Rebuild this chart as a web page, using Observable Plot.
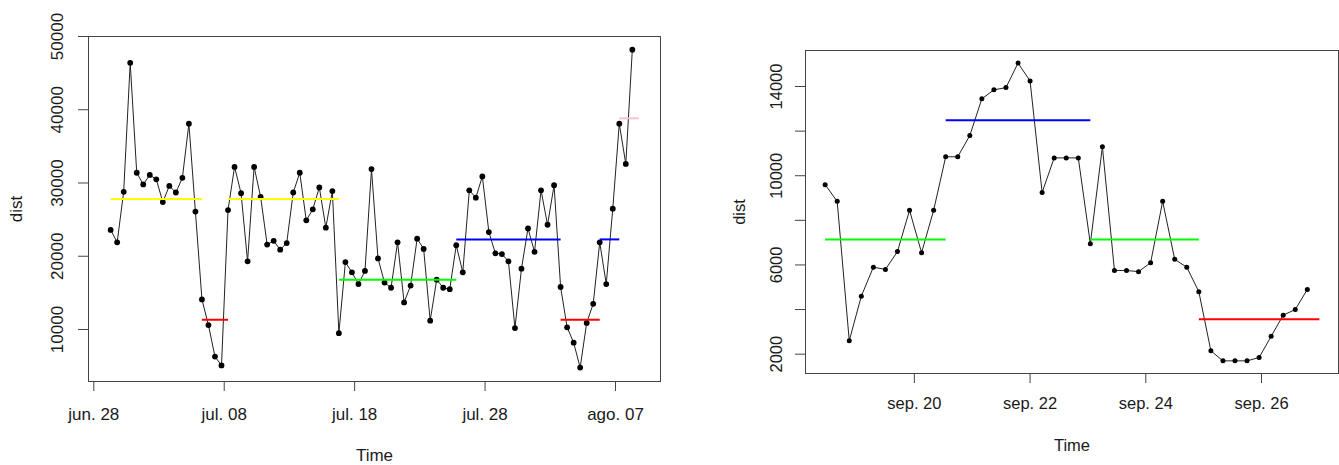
<!DOCTYPE html>
<html><head><meta charset="utf-8">
<script src="https://cdn.jsdelivr.net/npm/d3@7"></script>
<script src="https://cdn.jsdelivr.net/npm/@observablehq/plot@0.6"></script>
<style>
html,body{margin:0;padding:0;background:#fff;}
#wrap{position:relative;width:1339px;height:465px;overflow:hidden;font-family:"Liberation Sans",Arial,sans-serif;}
#left{position:absolute;left:0;top:0;}
#right{position:absolute;left:670px;top:0;}
</style></head><body>
<div id="wrap"><div id="left"></div><div id="right"></div></div>
<script>
// ---------- Left panel data (12-hourly) ----------
const leftStart = "2020-06-29T07:00Z";
const leftStepHours = 12;
const leftDist = [23600,21900,28800,46400,31400,29800,31100,30500,27400,29600,
  28700,30700,38100,26100,14100,10600,6300,5100,26300,32200,
  28600,19300,32200,28100,21600,22100,20900,21800,28700,31400,
  24900,26400,29400,23900,28900,9500,19200,17800,16200,18000,
  31900,19700,16400,15700,21900,13700,16000,22400,21000,11200,
  16800,15700,15500,21500,17800,29000,28000,30900,23300,20400,
  20300,19300,10200,18300,23800,20600,29000,24300,29700,15800,
  10300,8200,4800,10900,13500,21900,16200,26500,38100,32600,48200];
const leftSegState = ["yellow","red","yellow","green","blue","red","blue","pink"];
const leftSegFrom  = [0,14,18,35,53,69,75,78];
const leftSegTo    = [14,18,35,53,69,75,78,81];
const leftStates   = ["yellow","red","green","blue","pink"];
const leftStateLevel = [27800,11330,16790,22300,38830];
const leftXTicks = ["2020-06-28","2020-07-08","2020-07-18","2020-07-28","2020-08-07"];
const leftXTickLabels = ["jun. 28","jul. 08","jul. 18","jul. 28","ago. 07"];
const leftYTicks = [10000,20000,30000,40000,50000];
const leftYTickLabels = ["10000","20000","30000","40000","50000"];

// ---------- Right panel data (5-hourly) ----------
const rightStart = "2020-09-18T11:00Z";
const rightStepHours = 5;
const rightDist = [9600,8850,2600,4600,5900,5800,6600,8450,6550,8450,
  10850,10850,11800,13450,13850,13950,15050,14250,9250,10800,
  10800,10800,6950,11300,5750,5750,5700,6100,8850,6250,
  5900,4800,2150,1700,1700,1700,1850,2800,3750,4000,4900];
const rightSegState = ["green","blue","green","red"];
const rightSegFrom  = [0,10,22,31];
const rightSegTo    = [10,22,31,41];
const rightStates   = ["green","blue","red"];
const rightStateLevel = [7140,12490,3570];
const rightXTicks = ["2020-09-20","2020-09-22","2020-09-24","2020-09-26"];
const rightXTickLabels = ["sep. 20","sep. 22","sep. 24","sep. 26"];
const rightYTicks = [2000,4000,6000,8000,10000,12000,14000];
const rightYTickLabels = ["2000","","6000","","10000","","14000"];

// R base colour names -> hex (scale options)
const rColor = {yellow: "#ffff00", red: "#ff0000", green: "#00ff00", blue: "#0000ff", pink: "#ffc0cb"};

function panel(o) {
  const t0 = new Date(o.start).getTime();
  const at = i => new Date(t0 + i * o.stepH * 3600e3);
  const pts = o.values.map((v, i) => ({t: at(i), v}));
  const segs = o.segState.map((s, k) => ({x1: at(o.segFrom[k]), x2: at(o.segTo[k]), y: o.levels[o.states.indexOf(s)], c: rColor[s]}));
  const xt = o.xTicks.map(d => new Date(d + "T00:00Z"));
  const xMap = new Map(xt.map((d, i) => [+d, o.xTickLabels[i]]));
  const yMap = new Map(o.yTicks.map((v, i) => [v, o.yTickLabels[i]]));
  const ink = "#1a1a1a", axisInk = "#444";
  return Plot.plot({
    width: o.width, height: o.height,
    marginLeft: o.m[0], marginRight: o.m[1], marginTop: o.m[2], marginBottom: o.m[3],
    x: {type: "utc", domain: o.xDomain.map(d => new Date(d))},
    y: {domain: o.yDomain},
    color: {type: "identity"},
    style: {fontFamily: '"Liberation Sans", Arial, sans-serif', fontSize: o.fs + "px", color: ink, background: "white", overflow: "visible"},
    marks: [
      Plot.frame({stroke: axisInk, strokeWidth: 1}),
      Plot.axisX(xt, {tickSize: 10, tickPadding: o.xPad, tickFormat: d => xMap.get(+d), stroke: axisInk, fill: ink, fontSize: o.fs, label: null}),
      Plot.axisY(o.yTicks, {tickSize: 10, tickRotate: -90, textAnchor: "middle", lineAnchor: "middle", tickPadding: o.yPad, tickFormat: v => yMap.get(v), stroke: axisInk, fill: ink, fontSize: o.fs, label: null}),
      Plot.line(pts, {x: "t", y: "v", stroke: "#222", strokeWidth: 1}),
      Plot.dot(pts, {x: "t", y: "v", r: o.r, fill: "#000", stroke: "none"}),
      Plot.link(segs, {x1: "x1", x2: "x2", y1: "y", y2: "y", stroke: "c", strokeWidth: 2}),
      Plot.text(["Time"], {text: d => d, frameAnchor: "bottom", dy: o.timeDy, lineAnchor: "bottom", fontSize: o.fs, fill: ink}),
      Plot.text(["dist"], {text: d => d, frameAnchor: "left", dx: o.distDx, rotate: -90, lineAnchor: "middle", textAnchor: "middle", fontSize: o.fs, fill: ink})
    ]
  });
}

document.getElementById("left").append(panel({
  start: leftStart, stepH: leftStepHours, values: leftDist,
  segState: leftSegState, segFrom: leftSegFrom, segTo: leftSegTo, states: leftStates, levels: leftStateLevel,
  xTicks: leftXTicks, xTickLabels: leftXTickLabels, yTicks: leftYTicks, yTickLabels: leftYTickLabels,
  width: 670, height: 465, m: [88, 10, 36, 84],
  xDomain: ["2020-06-27T14:15Z", "2020-08-10T10:50Z"], yDomain: [2900, 50000],
  fs: 17, xPad: 16, yPad: 21, r: 2.9, timeDy: 79, distDx: -72
}));

document.getElementById("right").append(panel({
  start: rightStart, stepH: rightStepHours, values: rightDist,
  segState: rightSegState, segFrom: rightSegFrom, segTo: rightSegTo, states: rightStates, levels: rightStateLevel,
  xTicks: rightXTicks, xTickLabels: rightXTickLabels, yTicks: rightYTicks, yTickLabels: rightYTickLabels,
  width: 669, height: 465, m: [135, 1, 50, 92],
  xDomain: ["2020-09-18T02:51Z", "2020-09-27T07:56Z"], yDomain: [1133, 15614],
  fs: 16.5, xPad: 14, yPad: 19, r: 2.5, timeDy: 77, distDx: -66
}));
</script>
</body></html>
